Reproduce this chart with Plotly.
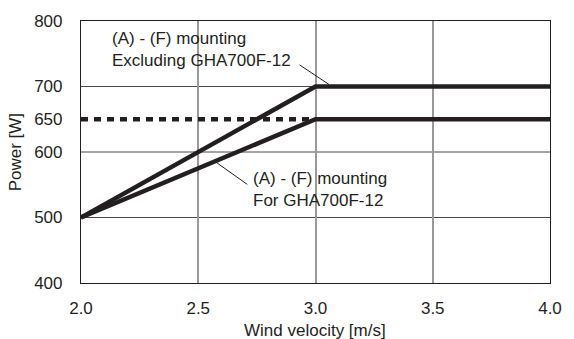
import plotly.graph_objects as go

# Power curves vs. wind velocity
wind_ms = [2.0, 3.0, 4.0]
power_excl_gha700 = [500, 700, 700]   # (A)-(F) mounting, excluding GHA700F-12
power_gha700 = [500, 650, 650]        # (A)-(F) mounting, for GHA700F-12

# Dotted reference level at 650 W
ref_wind = [2.0, 3.0]
ref_power = [650, 650]

x_ticks = [2.0, 2.5, 3.0, 3.5, 4.0]
x_tick_text = ["2.0", "2.5", "3.0", "3.5", "4.0"]
y_ticks = [400, 500, 600, 650, 700, 800]
y_grid = [500, 600, 700]

label_excl = "(A) - (F) mounting<br>Excluding GHA700F-12"
label_gha = "(A) - (F) mounting<br>For GHA700F-12"

# leader lines from the labels to the curves (data units)
leader_excl = ([2.932, 3.058], [733, 703])
leader_gha = ([2.709, 2.576], [550.6, 584.3])

FONT = "Liberation Sans, Arial, sans-serif"
INK = "#231f20"
FS = 17

fig = go.Figure()

# horizontal grid (dark) drawn as shapes so 650 has no grid line
for yv in y_grid:
    fig.add_shape(type="line", xref="paper", yref="y", x0=0, x1=1, y0=yv, y1=yv,
                  line=dict(color="#4a4a4a", width=1), layer="below")

fig.add_trace(go.Scatter(x=ref_wind, y=ref_power, mode="lines",
                         line=dict(color=INK, width=4.5, dash="7px,6px"),
                         hoverinfo="skip", showlegend=False))
fig.add_trace(go.Scatter(x=wind_ms, y=power_excl_gha700, mode="lines",
                         line=dict(color=INK, width=4.5),
                         showlegend=False))
fig.add_trace(go.Scatter(x=wind_ms, y=power_gha700, mode="lines",
                         line=dict(color=INK, width=4.5),
                         showlegend=False))

for lx, ly in (leader_excl, leader_gha):
    fig.add_trace(go.Scatter(x=lx, y=ly, mode="lines",
                             line=dict(color=INK, width=1),
                             hoverinfo="skip", showlegend=False))

fig.add_annotation(x=2.122, y=757, xref="x", yref="y", text=label_excl,
                   showarrow=False, xanchor="left", yanchor="middle", align="left",
                   font=dict(family=FONT, size=FS, color=INK))
fig.add_annotation(x=2.726, y=543, xref="x", yref="y", text=label_gha,
                   showarrow=False, xanchor="left", yanchor="middle", align="left",
                   font=dict(family=FONT, size=FS, color=INK))

# axis titles
fig.add_annotation(x=(319 - 81) / 477, y=-0.18, xref="paper", yref="paper",
                   text="Wind velocity [m/s]", showarrow=False,
                   xanchor="center", yanchor="middle",
                   font=dict(family=FONT, size=FS, color=INK))
fig.add_annotation(x=-0.14, y=0.5, xref="paper", yref="paper",
                   text="Power [W]", showarrow=False, textangle=-90,
                   xanchor="center", yanchor="middle",
                   font=dict(family=FONT, size=FS, color=INK))

fig.update_layout(
    width=574, height=339,
    margin=dict(l=81, r=16, t=16, b=56),
    paper_bgcolor="white", plot_bgcolor="white",
    font=dict(family=FONT, size=FS, color=INK),
    showlegend=False,
)
fig.update_xaxes(range=[2.0, 4.0], tickvals=x_ticks, ticktext=x_tick_text,
                 showgrid=True, gridcolor="#999999", gridwidth=1.5,
                 showline=True, linecolor=INK, linewidth=1.2, mirror=True,
                 ticks="", ticklabelstandoff=9, zeroline=False)
fig.update_yaxes(range=[400, 800], tickvals=y_ticks,
                 showgrid=False,
                 showline=True, linecolor=INK, linewidth=1.2, mirror=True,
                 ticks="", ticklabelstandoff=14, zeroline=False)

fig.write_html("out.html")
